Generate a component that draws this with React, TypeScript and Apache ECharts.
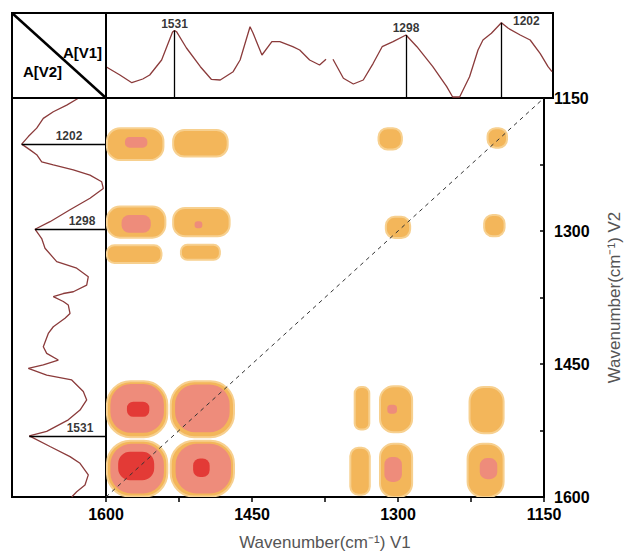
import { useEffect, useRef } from "react";
import * as echarts from "echarts";

// [wavenumber, absorbance] of the V1 spectrum drawn on top
const topSpectrum: (number | null)[][] = [
  [1600, 31.3], [1586, 23], [1574, 15.3], [1563, 19], [1556, 23], [1544, 38],
  [1533, 66], [1531, 67.5], [1529, 66.3], [1519, 50], [1505, 31.3], [1494, 18.7],
  [1485, 18], [1472, 26.3], [1465, 38], [1455, 71.3], [1452, 65], [1443, 43],
  [1433, 56.3], [1425, 56.3], [1412, 51.3], [1405, 48], [1395, 38], [1385, 33],
  [1378.5, 38.7], [1375, null], [1371.5, 38.7], [1361, 19.7], [1351, 14], [1341, 18],
  [1331, 34.7], [1322, 51.3], [1311, 56.3], [1298, 63], [1287, 51.3], [1271, 31.3],
  [1257, 11.3], [1251, 1], [1244, 1], [1234, 21.3], [1225.5, 48], [1220.5, 58],
  [1212, 64.7], [1202, 75.3], [1195, 69.7], [1183, 63], [1173, 58], [1163, 44.7],
  [1155, 31.3], [1151, 26.3],
];

// [wavenumber, absorbance] of the V2 spectrum drawn on the left
const leftSpectrum: number[][] = [
  [1150.3, 27.7], [1158, 39.3], [1165.5, 52.7], [1173, 62.7], [1184, 69.3], [1193.5, 77.7],
  [1202, 84.3], [1208.5, 76], [1214, 69.3], [1222, 64.3], [1225.5, 52.7], [1231, 32.7],
  [1237, 16], [1244.5, 4.3], [1252, 2.7], [1263, 16], [1276, 36], [1289.5, 56],
  [1298, 71], [1308.5, 64.3], [1319.5, 61], [1334.5, 49.3], [1342, 29.3], [1351.5, 17.7],
  [1361, 19.3], [1368.5, 32.7], [1370.5, 42.7], [1374, 52.7], [1379.5, 42.7], [1383.5, 37.7],
  [1393, 36], [1398.5, 41], [1408, 52.7], [1415.5, 57.7], [1430.5, 62.7], [1438, 59.3],
  [1445.5, 47.7], [1451, 62.7], [1455, 77.7], [1462.5, 59.3], [1468, 34.3], [1481, 22.7],
  [1490.5, 19.3], [1502, 26], [1513, 37.7], [1526, 59.3], [1531, 76.7], [1543, 56],
  [1554.5, 36], [1562, 26], [1575, 17.7], [1586.5, 21], [1594, 29.3], [1600, 34.3],
];

const topPeakWn = [1531, 1298, 1202];
const topPeakAbs = [67.5, 63, 75.3];
const leftPeakWn = [1202, 1298, 1531];
const leftPeakAbs = [84.3, 71, 76.7];
const leftPeakLabelAbs = [37, 24, 26];

const labelledTicks = [1150, 1300, 1450, 1600];

// contour regions: [centre V1, centre V2, half width V1, half width V2]
const outerContours = [
  [1570, 1202, 29, 18], [1503, 1201, 28, 15], [1308, 1196, 12, 12], [1198, 1195, 10, 11],
  [1569, 1290, 30, 17.5], [1502, 1290, 29, 16], [1300, 1296, 12.5, 12], [1201, 1294, 10.5, 12],
  [1571, 1326, 28, 10], [1503, 1324, 20, 8.5],
  [1568, 1501, 31, 31.5], [1501, 1501, 32.5, 31.5],
  [1568, 1568, 31, 31.5], [1501, 1568, 32.5, 31.5],
  [1337, 1500, 7.5, 24], [1302, 1501, 16.5, 26], [1209, 1502, 17.5, 26],
  [1339, 1571, 10, 26.5], [1302, 1570, 16.5, 30], [1210, 1570, 18.5, 30],
];
const middleContours = [
  [1569, 1200, 11.5, 6], [1569, 1292, 15, 10], [1505, 1293, 4, 4],
  [1568, 1500, 27.5, 27.5], [1501, 1500, 28, 27],
  [1568, 1568, 27.5, 28], [1500, 1568, 28.5, 28],
  [1306, 1501, 5, 5], [1305, 1569, 9, 14], [1207, 1568, 9, 12],
];
const innerContours = [
  [1567, 1501, 11.5, 8.5], [1569, 1565, 18.5, 16], [1502, 1567, 8.5, 10.5],
];

const diagonal = [[1600, 1600], [1150, 1150]];

const FONT = "Liberation Sans, Arial, sans-serif";

function contourSeries(name: string, data: number[][], fill: string, stroke: string, z: number) {
  return {
    name,
    type: "custom",
    xAxisIndex: 0,
    yAxisIndex: 0,
    z,
    clip: true,
    data,
    renderItem: (_params: any, api: any) => {
      const c = api.coord([api.value(0), api.value(1)]);
      const s = api.size([api.value(2), api.value(3)], [api.value(0), api.value(1)]);
      const w = Math.abs(s[0]) * 2;
      const h = Math.abs(s[1]) * 2;
      return {
        type: "rect",
        shape: { x: c[0] - w / 2, y: c[1] - h / 2, width: w, height: h, r: Math.min(w, h) * 0.42 },
        style: { fill, stroke, lineWidth: stroke === "none" ? 0 : 2 },
      };
    },
  };
}

export default function App() {
  const ref = useRef<HTMLDivElement>(null);
  useEffect(() => {
    if (!ref.current) return;
    const chart = echarts.init(ref.current, undefined, { renderer: "svg" });
    const boldLabel = { color: "#000", fontWeight: "bold" as const, fontSize: 16, fontFamily: FONT };
    const option: any = {
      animation: false,
      backgroundColor: "#fff",
      grid: [
        { left: 106, top: 98, width: 447, height: 399, show: false },
        { left: 106, top: 13, width: 447, height: 85, show: true, borderColor: "#000", borderWidth: 2 },
        { left: 12, top: 98, width: 94, height: 399, show: true, borderColor: "#000", borderWidth: 2 },
      ],
      xAxis: [
        {
          gridIndex: 0, type: "value", min: 1150, max: 1600, interval: 75, inverse: true, position: "bottom",
          axisLine: { show: true, lineStyle: { color: "#000", width: 2 } },
          axisTick: { show: true, inside: false, length: 5, lineStyle: { color: "#000", width: 1.5 } },
          axisLabel: {
            ...boldLabel, margin: 9, showMinLabel: true, showMaxLabel: true,
            formatter: (v: number) => (labelledTicks.includes(Math.round(v)) ? String(Math.round(v)) : ""),
          },
          splitLine: { show: false },
          name: "Wavenumber(cm⁻¹) V1", nameLocation: "middle", nameGap: 37,
          nameTextStyle: { color: "#555", fontSize: 17, fontFamily: FONT },
        },
        { gridIndex: 1, type: "value", min: 1150, max: 1600, inverse: true, show: false },
        { gridIndex: 2, type: "value", min: 0, max: 94, inverse: true, show: false },
      ],
      yAxis: [
        {
          gridIndex: 0, type: "value", min: 1150, max: 1600, interval: 75, inverse: true, position: "right",
          axisLine: { show: true, lineStyle: { color: "#000", width: 2 } },
          axisTick: { show: true, inside: true, length: 4, lineStyle: { color: "#000", width: 1.5 } },
          axisLabel: {
            ...boldLabel, margin: 10, showMinLabel: true, showMaxLabel: true,
            formatter: (v: number) => (labelledTicks.includes(Math.round(v)) ? String(Math.round(v)) : ""),
          },
          splitLine: { show: false },
          name: "Wavenumber(cm⁻¹) V2", nameLocation: "middle", nameGap: 62, nameRotate: 90,
          nameTextStyle: { color: "#555", fontSize: 17, fontFamily: FONT },
        },
        { gridIndex: 1, type: "value", min: 0, max: 85, show: false },
        { gridIndex: 2, type: "value", min: 1150, max: 1600, inverse: true, show: false },
      ],
      graphic: [
        { type: "line", shape: { x1: 12, y1: 13, x2: 106, y2: 98 }, style: { stroke: "#000", lineWidth: 2.5 }, z: 10 },
        { type: "rect", shape: { x: 12, y: 13, width: 94, height: 85 }, style: { fill: "none", stroke: "#000", lineWidth: 2 }, z: 10 },
        {
          type: "text", x: 82.5, y: 52, z: 10,
          style: { text: "A[V1]", font: `bold 15px ${FONT}`, fill: "#000", textAlign: "center", textVerticalAlign: "middle" },
        },
        {
          type: "text", x: 42.5, y: 71.5, z: 10,
          style: { text: "A[V2]", font: `bold 15px ${FONT}`, fill: "#000", textAlign: "center", textVerticalAlign: "middle" },
        },
      ],
      series: [
        contourSeries("outer", outerContours, "#f3b65a", "#f7d08f", 1),
        contourSeries("middle", middleContours, "#ee8c7b", "none", 2),
        contourSeries("inner", innerContours, "#e33a36", "none", 3),
        {
          type: "line", xAxisIndex: 0, yAxisIndex: 0, data: diagonal, symbol: "none", z: 5,
          lineStyle: { color: "#333", width: 1, type: [4, 4] },
        },
        {
          type: "line", xAxisIndex: 1, yAxisIndex: 1, data: topSpectrum, symbol: "none", showSymbol: false,
          connectNulls: false, z: 4,
          lineStyle: { color: "#8b3b3b", width: 1.3 },
          markLine: {
            silent: true, symbol: "none", label: { show: false },
            lineStyle: { color: "#000", width: 1.3, type: "solid" },
            data: topPeakWn.map((w, i) => [{ coord: [w, topPeakAbs[i]] }, { coord: [w, 0] }]),
          },
        },
        {
          type: "scatter", xAxisIndex: 1, yAxisIndex: 1, symbolSize: 0, z: 6,
          data: topPeakWn.map((w, i) => ({ value: [w, topPeakAbs[i]], name: String(w) })),
          label: {
            show: true, formatter: "{b}", position: "top", distance: 1,
            color: "#000", fontWeight: "bold", fontSize: 12, fontFamily: FONT,
          },
          labelLayout: (p: any) => (p.dataIndex === 2 ? { dx: 25, dy: 5 } : {}),
        },
        {
          type: "line", xAxisIndex: 2, yAxisIndex: 2,
          data: leftSpectrum.map((p) => [p[1], p[0]]),
          symbol: "none", showSymbol: false, z: 4,
          lineStyle: { color: "#8b3b3b", width: 1.3 },
          markLine: {
            silent: true, symbol: "none", label: { show: false },
            lineStyle: { color: "#000", width: 1.3, type: "solid" },
            data: leftPeakWn.map((w, i) => [{ coord: [leftPeakAbs[i], w] }, { coord: [0, w] }]),
          },
        },
        {
          type: "scatter", xAxisIndex: 2, yAxisIndex: 2, symbolSize: 0, z: 6,
          data: leftPeakWn.map((w, i) => ({ value: [leftPeakLabelAbs[i], w], name: String(w) })),
          label: {
            show: true, formatter: "{b}", position: "top", distance: 2,
            color: "#000", fontWeight: "bold", fontSize: 12, fontFamily: FONT,
          },
        },
      ],
    };
    chart.setOption(option);
    return () => chart.dispose();
  }, []);
  return <div ref={ref} style={{ position: "fixed", left: 0, top: 0, width: 631, height: 556 }} />;
}
